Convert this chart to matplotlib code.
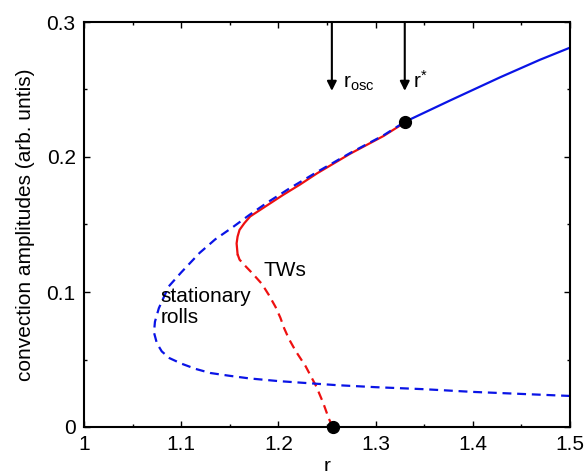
import matplotlib
matplotlib.use("Agg")
import matplotlib.pyplot as plt
from matplotlib.ticker import MultipleLocator

plt.rcParams["font.family"] = ["Liberation Sans", "DejaVu Sans"]
plt.rcParams["mathtext.fontset"] = "custom"
plt.rcParams["mathtext.rm"] = "Liberation Sans"

# stationary rolls, unstable (dashed) branch: lower part -> fold -> upper part up to r*
rolls_dash_r = [1.5, 1.45, 1.4, 1.35, 1.3, 1.26, 1.24, 1.2, 1.17, 1.149, 1.13, 1.115,
                1.1, 1.088, 1.08, 1.075, 1.072, 1.073, 1.077, 1.087, 1.1, 1.119,
                1.135, 1.153, 1.17, 1.188, 1.212, 1.24, 1.274, 1.308, 1.33]
rolls_dash_a = [0.023, 0.0245, 0.026, 0.028, 0.0295, 0.031, 0.032, 0.034, 0.036, 0.038,
                0.040, 0.043, 0.047, 0.051, 0.056, 0.062, 0.070, 0.078, 0.088, 0.104,
                0.1145, 0.129, 0.139, 0.148, 0.157, 0.166, 0.177, 0.189, 0.203, 0.216, 0.226]

# stationary rolls, stable (solid) branch beyond r*
rolls_solid_r = [1.33, 1.377, 1.428, 1.469, 1.5]
rolls_solid_a = [0.226, 0.242, 0.259, 0.272, 0.281]

# travelling waves, unstable (dashed) part from onset to its fold
tw_dash_r = [1.256, 1.252, 1.246, 1.239, 1.228, 1.218, 1.211, 1.206, 1.202, 1.197,
             1.19, 1.183, 1.173, 1.165, 1.16, 1.158]
tw_dash_a = [0.0, 0.006, 0.018, 0.030, 0.045, 0.056, 0.065, 0.073, 0.081, 0.089,
             0.098, 0.106, 0.114, 0.120, 0.124, 0.128]

# travelling waves, stable (solid) part up to r*
tw_solid_r = [1.158, 1.157, 1.158, 1.160, 1.165, 1.171, 1.188, 1.205, 1.222, 1.24,
              1.274, 1.308, 1.33]
tw_solid_a = [0.128, 0.136, 0.141, 0.146, 0.151, 0.156, 0.164, 0.172, 0.1795, 0.188,
              0.2025, 0.2155, 0.2255]

special_r = [1.256, 1.33]
special_a = [0.0, 0.226]

r_osc = 1.255
r_star = 1.33

fig = plt.figure(figsize=(5.87, 4.71), dpi=100)
ax = fig.add_axes([84 / 587, 44 / 471, 486 / 587, 405 / 471])

blue = "#0a14e6"
red = "#ee1010"
dash = (0, (4, 2.6))

ax.plot(tw_solid_r, tw_solid_a, color=red, lw=1.6)
ax.plot(tw_dash_r, tw_dash_a, color=red, lw=1.6, linestyle=dash)
ax.plot(rolls_dash_r, rolls_dash_a, color=blue, lw=1.6, linestyle=dash)
ax.plot(rolls_solid_r, rolls_solid_a, color=blue, lw=1.6)
ax.plot(special_r, special_a, "o", color="black", markersize=8.5, clip_on=False, zorder=5)

# arrows marking r_osc and r*
for rx in (r_osc, r_star):
    ax.annotate("", xy=(rx, 0.249), xytext=(rx, 0.3),
                arrowprops=dict(arrowstyle="-|>", color="black", lw=1.5,
                                mutation_scale=14, shrinkA=0, shrinkB=0))
ax.text(r_osc + 0.011, 0.251, r"$\mathregular{r_{osc}}$", fontsize=15, ha="left", va="baseline")
ax.text(r_star + 0.008, 0.251, r"$\mathregular{r^{*}}$", fontsize=15, ha="left", va="baseline")

ax.text(1.079, 0.089, "stationary\nrolls", fontsize=15, ha="left", va="center", linespacing=1.15)
ax.text(1.185, 0.116, "TWs", fontsize=15, ha="left", va="center")

ax.set_xlim(1, 1.5)
ax.set_ylim(0, 0.3)
ax.xaxis.set_minor_locator(MultipleLocator(0.05))
ax.yaxis.set_minor_locator(MultipleLocator(0.05))
ax.set_xticks([1, 1.1, 1.2, 1.3, 1.4, 1.5])
ax.set_xticklabels(["1", "1.1", "1.2", "1.3", "1.4", "1.5"])
ax.set_yticks([0, 0.1, 0.2, 0.3])
ax.set_yticklabels(["0", "0.1", "0.2", "0.3"])
ax.tick_params(which="both", direction="in", top=True, right=True, labelsize=15)
ax.tick_params(which="major", length=4.5, width=1.0, pad=6)
ax.tick_params(which="minor", length=2.5, width=1.0)
for s in ax.spines.values():
    s.set_linewidth(1.5)

ax.set_xlabel("r", fontsize=15, labelpad=2)
ax.set_ylabel("convection amplitudes (arb. untis)", fontsize=15, labelpad=8)

fig.savefig("out.png", dpi=100, facecolor="white")
